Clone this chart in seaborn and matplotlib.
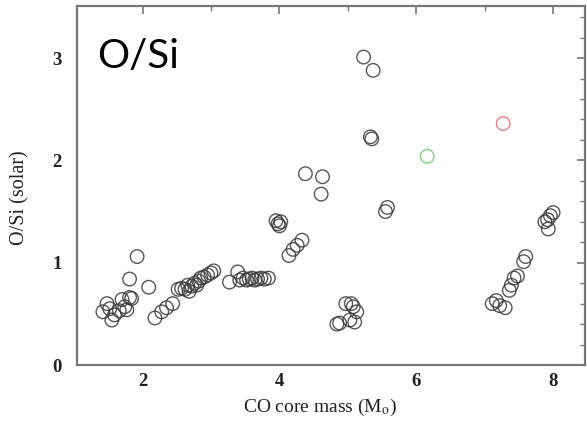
import matplotlib
matplotlib.use("Agg")
import matplotlib.pyplot as plt
import seaborn as sns
import pandas as pd
from matplotlib.ticker import MultipleLocator

# CO core mass (Msun) and O/Si (solar) for the grey models
mass = [1.42, 1.48, 1.52, 1.55, 1.59, 1.66, 1.70, 1.74, 1.77, 1.81, 1.84, 1.81, 1.92, 2.09,
        2.18, 2.28, 2.35, 2.44,
        2.52, 2.57, 2.62, 2.66, 2.68, 2.72, 2.76, 2.79, 2.82, 2.85, 2.90, 2.95, 3.00, 3.04,
        3.27, 3.39, 3.42, 3.47, 3.52, 3.56, 3.60, 3.64, 3.68, 3.73, 3.78, 3.84,
        3.95, 3.98, 4.00, 4.02,
        4.14, 4.20, 4.26, 4.33,
        4.38, 4.63, 4.61,
        5.23, 5.37, 5.33, 5.35,
        5.55, 5.58,
        4.84, 4.88, 4.97, 5.05, 5.08, 5.13, 5.03, 5.10,
        7.11, 7.17, 7.22, 7.30, 7.36, 7.39, 7.43, 7.48, 7.57, 7.60,
        7.88, 7.92, 7.93, 7.96, 8.00]
osi = [0.52, 0.60, 0.55, 0.44, 0.49, 0.53, 0.64, 0.57, 0.54, 0.66, 0.65, 0.84, 1.06, 0.76,
       0.46, 0.52, 0.56, 0.60,
       0.74, 0.75, 0.74, 0.78, 0.72, 0.77, 0.80, 0.78, 0.82, 0.85, 0.86, 0.88, 0.90, 0.92,
       0.81, 0.91, 0.83, 0.85, 0.83, 0.84, 0.85, 0.83, 0.84, 0.85, 0.84, 0.85,
       1.41, 1.38, 1.36, 1.40,
       1.07, 1.13, 1.17, 1.22,
       1.87, 1.84, 1.67,
       3.01, 2.88, 2.23, 2.21,
       1.50, 1.54,
       0.40, 0.41, 0.60, 0.60, 0.57, 0.52, 0.44, 0.42,
       0.60, 0.63, 0.58, 0.56, 0.73, 0.78, 0.85, 0.87, 1.01, 1.06,
       1.40, 1.42, 1.33, 1.46, 1.49]

# highlighted models
green_mass = [6.16]
green_osi = [2.04]
red_mass = [7.27]
red_osi = [2.36]

sns.set_theme(style="white")
plt.rcParams['font.family'] = ['Liberation Serif', 'DejaVu Serif']
plt.rcParams['mathtext.fontset'] = 'stix'

fig = plt.figure(figsize=(5.87, 4.21), dpi=100)
ax = fig.add_axes([0.131, 0.133, 0.866, 0.853])

df = pd.DataFrame({"mass": mass, "osi": osi})
dfg = pd.DataFrame({"mass": green_mass, "osi": green_osi})
dfr = pd.DataFrame({"mass": red_mass, "osi": red_osi})

kw = dict(marker="o", s=95, facecolors="none", linewidth=1.0, legend=False)
sns.scatterplot(data=df, x="mass", y="osi", ax=ax, edgecolor="#3a3a3a", alpha=0.85, **kw)
sns.scatterplot(data=dfg, x="mass", y="osi", ax=ax, edgecolor="#7fd07f", **kw)
sns.scatterplot(data=dfr, x="mass", y="osi", ax=ax, edgecolor="#e07f7f", **kw)

ax.set_xlim(1.04, 8.47)
ax.set_ylim(0, 3.51)
ax.xaxis.set_major_locator(MultipleLocator(2))
ax.xaxis.set_minor_locator(MultipleLocator(1))
ax.yaxis.set_major_locator(MultipleLocator(1))
ax.yaxis.set_minor_locator(MultipleLocator(0.2))
ax.tick_params(which="both", direction="in", top=True, right=True, color="#777777",
               labelsize=13.5, labelcolor="#222222")
ax.tick_params(which="major", length=6, width=1.2)
ax.tick_params(which="minor", length=3.5, width=1.0)
ax.tick_params(axis="x", which="major", pad=6)
ax.tick_params(axis="y", which="major", pad=11)
for lab in ax.get_xticklabels() + ax.get_yticklabels():
    lab.set_fontweight("bold")
for sp in ax.spines.values():
    sp.set_color("#777777")
    sp.set_linewidth(1.6)

ax.set_xlabel(r"CO core mass (M$_{\rm o}$)", fontsize=14, color="#222222", va="center")
ax.set_ylabel("O/Si (solar)", fontsize=14.5, color="#222222", va="center")
ax.xaxis.set_label_coords(0.478, -0.118)
ax.yaxis.set_label_coords(-0.112, 0.465)

ax.text(0.039, 0.827, "O/Si", transform=ax.transAxes, fontsize=29,
        family=["Lato", "DejaVu Sans"], color="black", va="baseline", ha="left")

fig.savefig("out.png", dpi=100)
